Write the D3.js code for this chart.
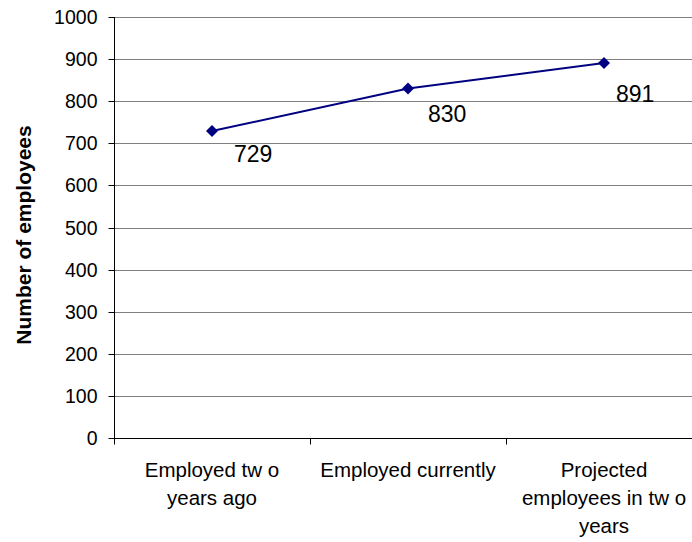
<!DOCTYPE html>
<html><head><meta charset="utf-8">
<script src="https://cdn.jsdelivr.net/npm/d3@7"></script>
<style>
html,body{margin:0;padding:0;background:#fff;}
svg{display:block;font-family:Arial,"Liberation Sans",sans-serif;}
</style></head>
<body>
<svg id="chart" width="692" height="542"></svg>
<script>
// ---- data ----
const categories = ["Employed two years ago", "Employed currently", "Projected employees in two years"];
const categoryLines = [["Employed tw o", "years ago"], ["Employed currently"], ["Projected", "employees in tw o", "years"]];
const employees = [729, 830, 891];
const yTicks = [0, 100, 200, 300, 400, 500, 600, 700, 800, 900, 1000];
const yTitle = "Number of employees";

// ---- layout ----
const svg = d3.select("#chart");
const mLeft = 114, mRight = 702, mTop = 17, mBottom = 438;

const x = d3.scaleBand().domain(categories).range([mLeft, mRight]);
const y = d3.scaleLinear().domain([0, 1000]).range([mBottom, mTop]);

// gridlines
svg.append("g").selectAll("line").data(yTicks.filter(d => d > 0)).join("line")
  .attr("x1", mLeft).attr("x2", 692)
  .attr("y1", d => Math.round(y(d)) + 0.5).attr("y2", d => Math.round(y(d)) + 0.5)
  .attr("stroke", "#808080").attr("stroke-width", 1);

// y axis
const yAxis = svg.append("g").attr("transform", `translate(${mLeft + 0.5},0)`)
  .call(d3.axisLeft(y).tickValues(yTicks).tickSize(6).tickPadding(11).tickFormat(d3.format("d")));
yAxis.select(".domain").attr("stroke", "#000").attr("d", `M0,${mTop}V${mBottom}`);
yAxis.selectAll(".tick line").attr("stroke", "#000");
yAxis.selectAll(".tick text").attr("font-size", 19.5).attr("fill", "#000")
  .attr("font-family", "Arial, 'Liberation Sans', sans-serif");
yAxis.selectAll(".tick").attr("transform", d => `translate(0,${Math.round(y(d)) + 0.5})`);

// x axis
const xAxis = svg.append("g").attr("transform", `translate(0,${mBottom + 0.5})`);
xAxis.append("line").attr("x1", mLeft).attr("x2", 692).attr("stroke", "#000");
const boundaries = categories.map(c => x(c)).concat([mRight]);
xAxis.selectAll("line.tk").data(boundaries).join("line").attr("class", "tk")
  .attr("x1", d => Math.round(d) + 0.5).attr("x2", d => Math.round(d) + 0.5)
  .attr("y1", 0).attr("y2", 6).attr("stroke", "#000");

// category labels
categories.forEach((c, i) => {
  const t = svg.append("text").attr("text-anchor", "middle").attr("font-size", 20.5).attr("fill", "#000");
  categoryLines[i].forEach((ln, j) => {
    t.append("tspan").attr("x", x(c) + x.bandwidth() / 2).attr("y", 477 + j * 28).text(ln);
  });
});

// line
const cx = i => x(categories[i]) + x.bandwidth() / 2;
const line = d3.line().x((d, i) => cx(i)).y(d => y(d));
svg.append("path").datum(employees).attr("d", line)
  .attr("fill", "none").attr("stroke", "#000080").attr("stroke-width", 2);

// markers
svg.append("g").selectAll("path").data(employees).join("path")
  .attr("transform", (d, i) => `translate(${cx(i)},${y(d)})`)
  .attr("d", "M0,-6L6,0L0,6L-6,0Z").attr("fill", "#000080");

// data labels
const labelNudge = [[22, 31], [20, 33], [12, 39]];
svg.append("g").selectAll("text").data(employees).join("text")
  .attr("x", (d, i) => cx(i) + labelNudge[i][0])
  .attr("y", (d, i) => y(d) + labelNudge[i][1])
  .attr("font-size", 23).attr("fill", "#000").text(d => d);

// y title
svg.append("text").attr("transform", `translate(31,235) rotate(-90)`)
  .attr("text-anchor", "middle").attr("font-size", 21).attr("font-weight", "bold").attr("fill", "#000")
  .text(yTitle);
</script>
</body></html>
